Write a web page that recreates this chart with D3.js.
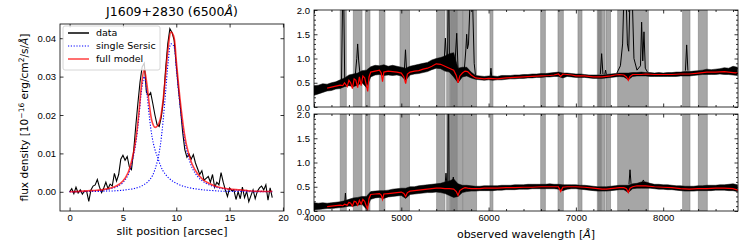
<!DOCTYPE html>
<html>
<head>
<meta charset="utf-8">
<script src="https://cdn.jsdelivr.net/npm/d3@7"></script>
<style>
  body { margin: 0; background: #fff; }
  svg { font-family: 'DejaVu Sans', sans-serif; }
  .tick text { font-size: 9.5px; fill: #000; }
  .tick line { stroke: #000; stroke-width: 0.8; }
  .domain { display: none; }
</style>
</head>
<body>
<svg id="chart" width="747" height="249"></svg>
<script>
// ---- left panel: slit profile ----
const slitPos = [0,0.2,0.4,0.6,0.8,1,1.2,1.4,1.6,1.8,2,2.2,2.4,2.6,2.8,3,3.2,3.4,3.6,3.8,
  4,4.2,4.4,4.6,4.8,5,5.2,5.4,5.6,5.8,6,6.2,6.4,6.6,6.8,7,7.2,7.4,7.6,7.8,
  8,8.2,8.4,8.6,8.8,9,9.2,9.4,9.6,9.8,10,10.2,10.4,10.6,10.8,11,11.2,11.4,11.6,11.8,
  12,12.2,12.4,12.6,12.8,13,13.2,13.4,13.6,13.8,14,14.2,14.4,14.6,14.8,15,15.2,15.4,15.6,15.8,
  16,16.2,16.4,16.6,16.8,17,17.2,17.4,17.6,17.8,18,18.2,18.4,18.6,18.8,19];
const slitFlux = [0.0000,0.0008,-0.0005,0.0012,-0.0003,0.0005,-0.0006,0.0002,0.0001,-0.0025,
  0.0005,0.0015,0.0018,0.0032,0.0012,-0.0002,0.0010,0.0025,0.0008,0.0020,
  0.0015,0.0048,0.0028,0.0045,0.0085,0.0095,0.0082,0.0092,0.0065,0.0058,
  0.0105,0.0170,0.0230,0.0285,0.0325,0.0335,0.0260,0.0250,0.0258,0.0230,
  0.0200,0.0175,0.0170,0.0195,0.0240,0.0320,0.0385,0.0425,0.0415,0.0395,
  0.0330,0.0270,0.0215,0.0155,0.0110,0.0090,0.0098,0.0085,0.0097,0.0075,
  0.0060,0.0045,0.0055,0.0030,0.0035,0.0040,0.0025,0.0045,0.0012,0.0025,
  0.0018,0.0050,0.0025,0.0005,-0.0012,0.0010,0.0003,0.0005,-0.0020,0.0000,
  -0.0018,0.0012,-0.0015,0.0001,-0.0026,-0.0010,0.0005,-0.0018,0.0001,0.0010,
  0.0015,0.0005,0.0018,-0.0022,0.0010,-0.0015];

const modelPos = [0,1,2,3,3.5,4,4.5,5,5.5,6,6.25,6.5,6.75,7,7.25,7.5,7.75,8,8.25,8.5,
  8.75,9,9.25,9.5,9.75,10,10.25,10.5,10.75,11,11.5,12,12.5,13,14,15,16,17,18,19];
const sersicA = [0.0000,0.0001,0.0002,0.0004,0.0006,0.0009,0.0014,0.0024,0.0045,0.0095,
  0.0135,0.0195,0.0265,0.0300,0.0255,0.0190,0.0140,0.0110,0.0090,0.0070,
  0.0055,0.0045,0.0037,0.0031,0.0026,0.0022,0.0019,0.0016,0.0014,0.0012,
  0.0009,0.0007,0.0005,0.0004,0.0002,0.0001,0.0001,0.0000,0.0000,0.0000];
const sersicB = [0.0000,0.0000,0.0001,0.0001,0.0002,0.0002,0.0003,0.0004,0.0006,0.0008,
  0.0010,0.0012,0.0015,0.0019,0.0024,0.0031,0.0041,0.0058,0.0082,0.0120,
  0.0180,0.0260,0.0340,0.0385,0.0380,0.0320,0.0250,0.0190,0.0140,0.0105,
  0.0062,0.0040,0.0027,0.0019,0.0010,0.0006,0.0004,0.0002,0.0001,0.0001];
const fullModel = [0.0000,0.0001,0.0003,0.0005,0.0008,0.0011,0.0017,0.0028,0.0051,0.0103,
  0.0145,0.0207,0.0280,0.0319,0.0279,0.0221,0.0181,0.0168,0.0172,0.0190,
  0.0235,0.0305,0.0377,0.0416,0.0406,0.0342,0.0269,0.0206,0.0154,0.0117,
  0.0071,0.0047,0.0032,0.0023,0.0012,0.0007,0.0005,0.0002,0.0001,0.0001];

const slitTicks = [0, 5, 10, 15, 20];
const fluxTicks = [0, 0.01, 0.02, 0.03, 0.04];

// ---- right panels: spectra ----
const specWave = [4000,4050,4100,4150,4200,4250,4300,4350,4400,4450,4500,4550,4600,4650,4700,4750,4800,4850,4900,4950,
  5000,5050,5100,5150,5200,5250,5300,5350,5400,5450,5500,5550,5600,5650,5700,5750,5800,5850,5900,5950,
  6000,6050,6100,6150,6200,6250,6300,6350,6400,6450,6500,6550,6600,6650,6700,6750,6800,6850,6900,6950,
  7000,7050,7100,7150,7200,7250,7300,7350,7400,7450,7500,7550,7600,7650,7700,7750,7800,7850,7900,7950,
  8000,8050,8100,8150,8200,8250,8300,8350,8400,8450,8500,8550,8600,8650,8700,8750,8800,8850];
const topLo = [0.24,0.27,0.30,0.33,0.34,0.37,0.38,0.42,0.44,0.42,0.45,0.50,0.40,0.62,0.66,0.67,0.65,0.66,0.65,0.66,
  0.64,0.55,0.66,0.68,0.69,0.71,0.73,0.77,0.80,0.79,0.74,0.72,0.62,0.50,0.62,0.64,0.60,0.57,0.56,0.55,
  0.56,0.55,0.56,0.56,0.57,0.58,0.58,0.59,0.59,0.60,0.60,0.61,0.61,0.62,0.62,0.63,0.63,0.60,0.63,0.62,
  0.61,0.61,0.61,0.60,0.59,0.59,0.59,0.60,0.61,0.62,0.63,0.62,0.56,0.63,0.64,0.64,0.64,0.63,0.63,0.63,
  0.63,0.63,0.63,0.63,0.64,0.64,0.64,0.65,0.66,0.67,0.67,0.67,0.67,0.68,0.67,0.67,0.66,0.65];
const topHi = [0.44,0.45,0.48,0.47,0.50,0.52,0.56,0.60,0.66,0.68,0.70,0.75,0.76,0.83,0.86,0.85,0.87,0.84,0.86,0.84,
  0.82,0.80,0.84,0.86,0.88,0.90,0.92,0.97,1.00,1.02,1.05,1.10,1.12,0.80,0.82,0.82,0.72,0.65,0.64,0.63,
  0.64,0.64,0.63,0.65,0.65,0.65,0.66,0.66,0.67,0.67,0.68,0.68,0.69,0.69,0.70,0.71,0.72,0.70,0.70,0.69,
  0.68,0.68,0.67,0.66,0.66,0.66,0.66,0.67,0.68,0.69,0.70,0.70,0.70,0.71,0.71,0.72,0.71,0.71,0.70,0.71,
  0.70,0.71,0.71,0.72,0.72,0.73,0.73,0.74,0.75,0.76,0.78,0.77,0.78,0.79,0.81,0.80,0.84,0.82];
const botLo = [0.02,0.03,0.04,0.05,0.05,0.06,0.07,0.08,0.10,0.10,0.12,0.14,0.04,0.24,0.27,0.28,0.26,0.29,0.30,0.31,
  0.32,0.26,0.34,0.35,0.36,0.37,0.38,0.38,0.39,0.38,0.36,0.32,0.28,0.30,0.38,0.40,0.41,0.41,0.42,0.42,
  0.42,0.42,0.43,0.43,0.44,0.44,0.44,0.45,0.45,0.45,0.46,0.46,0.46,0.46,0.46,0.46,0.45,0.42,0.45,0.46,
  0.46,0.45,0.44,0.43,0.42,0.41,0.41,0.41,0.42,0.43,0.44,0.44,0.38,0.46,0.47,0.47,0.47,0.47,0.46,0.45,
  0.45,0.44,0.44,0.43,0.42,0.41,0.41,0.41,0.42,0.42,0.42,0.42,0.43,0.43,0.43,0.42,0.42,0.40];
const botHi = [0.17,0.16,0.17,0.16,0.17,0.18,0.19,0.21,0.24,0.27,0.28,0.30,0.30,0.40,0.41,0.42,0.42,0.43,0.45,0.46,
  0.47,0.47,0.50,0.50,0.52,0.53,0.54,0.55,0.56,0.57,0.60,0.62,0.66,0.56,0.53,0.53,0.52,0.51,0.51,0.52,
  0.52,0.52,0.52,0.53,0.53,0.53,0.54,0.54,0.54,0.55,0.55,0.55,0.55,0.55,0.56,0.55,0.55,0.54,0.54,0.54,
  0.54,0.53,0.53,0.52,0.51,0.50,0.50,0.50,0.51,0.52,0.53,0.53,0.53,0.56,0.57,0.60,0.60,0.57,0.55,0.55,
  0.54,0.54,0.53,0.52,0.52,0.51,0.51,0.51,0.52,0.52,0.53,0.53,0.53,0.54,0.54,0.55,0.56,0.54];

// emission lines in the data, [wavelength, flux] points
const topSpikes = [
  [[4315,0.50],[4328,2.3],[4340,2.3],[4352,0.55]],
  [[4470,0.60],[4490,1.00],[4500,1.30],[4512,0.95],[4530,0.62]],
  [[5035,0.75],[5048,1.18],[5060,0.76]],
  [[5490,0.90],[5505,1.42],[5518,0.95]],
  [[5530,0.95],[5537,2.3],[5545,2.3],[5552,0.90]],
  [[5615,0.90],[5635,1.52],[5650,0.80]],
  [[5720,0.72],[5740,1.20],[5749,1.50],[5758,1.20],[5770,1.30],[5790,2.3],[5815,2.3],[5835,0.90],[5850,0.65]],
  [[6018,0.62],[6027,0.80],[6036,0.62]],
  [[7280,0.68],[7295,1.10],[7310,0.68]],
  [[7332,0.68],[7340,0.76],[7348,0.68]],
  [[7470,0.70],[7510,0.85],[7535,1.30],[7550,2.3],[7575,2.3],[7590,1.30],[7605,1.15],[7620,2.3],[7645,2.3],
   [7665,1.00],[7700,0.76],[7740,0.85],[7753,1.75],[7766,0.95],[7780,1.55],[7795,0.80],[7820,0.72]],
  [[8255,0.75],[8269,1.28],[8283,0.75]]
];
const botSpikes = [
  [[4352,0.18],[4360,0.37],[4368,0.18]],
  [[5502,0.55],[5512,0.78],[5522,0.55]],
  [[5532,0.60],[5537,2.3],[5543,2.3],[5548,0.60]],
  [[5588,0.62],[5596,0.70],[5604,0.60]],
  [[7608,0.55],[7620,0.85],[7632,0.56]],
  [[7760,0.58],[7773,0.64],[7786,0.58]]
];

const modelWave = [4150,4200,4250,4300,4330,4350,4380,4400,4420,4440,4460,4480,4500,4520,4540,4560,4580,4600,4615,4630,
  4650,4700,4750,4770,4785,4800,4850,4900,4950,5000,5030,5050,5070,5100,5150,5200,5250,5300,5350,5400,
  5450,5500,5550,5600,5630,5650,5670,5700,5730,5760,5800,5850,5900,5950,6000,6100,6200,6300,6400,6500,
  6600,6700,6750,6800,6826,6850,6900,6950,7000,7100,7200,7300,7350,7400,7450,7500,7550,7580,7600,7620,
  7650,7700,7750,7800,7900,8000,8100,8200,8300,8400,8500,8600,8700,8800,8857];
const topModel = [0.39,0.41,0.43,0.45,0.44,0.50,0.42,0.55,0.50,0.38,0.58,0.55,0.40,0.62,0.44,0.64,0.60,0.45,0.32,0.62,
  0.72,0.74,0.76,0.70,0.52,0.72,0.74,0.73,0.72,0.70,0.62,0.48,0.68,0.72,0.74,0.75,0.78,0.80,0.84,0.89,
  0.88,0.84,0.80,0.76,0.65,0.50,0.64,0.70,0.74,0.73,0.66,0.60,0.59,0.58,0.59,0.58,0.60,0.61,0.62,0.63,
  0.64,0.65,0.66,0.68,0.63,0.68,0.67,0.66,0.64,0.64,0.62,0.62,0.63,0.64,0.66,0.67,0.66,0.62,0.55,0.63,
  0.67,0.67,0.67,0.68,0.67,0.67,0.67,0.68,0.68,0.70,0.72,0.72,0.73,0.71,0.70];
const botModel = [0.09,0.10,0.11,0.12,0.11,0.14,0.12,0.18,0.16,0.10,0.20,0.19,0.12,0.22,0.14,0.24,0.20,0.10,0.04,0.26,
  0.34,0.35,0.36,0.33,0.24,0.35,0.36,0.37,0.38,0.39,0.36,0.30,0.38,0.41,0.42,0.43,0.44,0.45,0.46,0.47,
  0.47,0.46,0.46,0.45,0.40,0.32,0.42,0.46,0.48,0.47,0.46,0.46,0.46,0.47,0.47,0.47,0.48,0.48,0.49,0.49,
  0.50,0.50,0.50,0.50,0.40,0.49,0.50,0.50,0.50,0.49,0.47,0.45,0.45,0.46,0.47,0.48,0.48,0.46,0.38,0.47,
  0.50,0.52,0.52,0.52,0.50,0.49,0.48,0.46,0.45,0.46,0.46,0.47,0.47,0.46,0.43];

// masked wavelength ranges (grey bands)
const maskBands = [[4300,4370],[4450,4550],[4588,4641],[4748,4813],[4985,5095],[5405,5500],[5520,5560],
  [5560,5700],[5575,5640],[5705,5863],[6016,6050],[6597,6650],[6795,6856],[7024,7070],[7245,7333],
  [7257,7290],[7345,7398],[7479,7830],[8223,8307],[8402,8505]];

const waveTicks = [4000, 5000, 6000, 7000, 8000];
const specTicks = [0, 0.5, 1.0, 1.5, 2.0];

// ================= drawing =================
const svg = d3.select('#chart');
const defs = svg.append('defs');

function clip(id, b) {
  defs.append('clipPath').attr('id', id)
    .append('rect').attr('x', b.x0).attr('y', b.y0)
    .attr('width', b.x1 - b.x0).attr('height', b.y1 - b.y0);
}

function addAxes(x, y, b, o) {
  const g = svg.append('g');
  const major = 3.5, minor = 2;
  const sides = [
    ['bottom', d3.axisBottom, `translate(0,${b.y1})`, x, o.xMajor, o.xMinor, o.xFmt],
    ['top', d3.axisTop, `translate(0,${b.y0})`, x, o.xMajor, o.xMinor, null],
    ['left', d3.axisLeft, `translate(${b.x0},0)`, y, o.yMajor, o.yMinor, o.yFmt],
    ['right', d3.axisRight, `translate(${b.x1},0)`, y, o.yMajor, o.yMinor, null],
  ];
  sides.forEach(([side, axisFn, tr, sc, maj, mnr, fmt]) => {
    if (mnr) {
      g.append('g').attr('transform', tr)
        .call(axisFn(sc).tickValues(mnr).tickSize(-minor).tickFormat(''));
    }
    g.append('g').attr('transform', tr)
      .call(axisFn(sc).tickValues(maj).tickSize(-major).tickPadding(side === 'left' ? 4 : 3.5)
        .tickFormat(fmt ? fmt : ''));
  });
  g.append('rect').attr('x', b.x0).attr('y', b.y0)
    .attr('width', b.x1 - b.x0).attr('height', b.y1 - b.y0)
    .attr('fill', 'none').attr('stroke', '#000').attr('stroke-width', 0.8);
}

// ---- left panel ----
const L = {x0: 60, x1: 284, y0: 24, y1: 211};
clip('clipL', L);
const xSlit = d3.scaleLinear().domain([-0.9, 20.1]).range([L.x0, L.x1]);
const yFlux = d3.scaleLinear().domain([-0.005, 0.0437]).range([L.y1, L.y0]);

const gL = svg.append('g').attr('clip-path', 'url(#clipL)');

gL.append('path')
  .attr('d', d3.line().x((d, i) => xSlit(slitPos[i])).y(d => yFlux(d))(slitFlux))
  .attr('fill', 'none').attr('stroke', '#000').attr('stroke-width', 1.1);

const modelLine = d3.line().curve(d3.curveCatmullRom)
  .x((d, i) => xSlit(modelPos[i])).y(d => yFlux(d));

[sersicA, sersicB].forEach(s => {
  gL.append('path').attr('d', modelLine(s))
    .attr('fill', 'none').attr('stroke', '#0000ff').attr('stroke-width', 1.1)
    .attr('stroke-dasharray', '1.2,1.6');
});
gL.append('path').attr('d', modelLine(fullModel))
  .attr('fill', 'none').attr('stroke', 'red').attr('stroke-opacity', 0.75)
  .attr('stroke-width', 1.6);

addAxes(xSlit, yFlux, L, {
  xMajor: slitTicks, xFmt: d3.format('d'),
  yMajor: fluxTicks, yFmt: d3.format('.2f'),
});

// legend
const legendItems = [
  {label: 'data', color: '#000', dash: null, op: 1},
  {label: 'single Sersic', color: '#0000ff', dash: '1.2,1.6', op: 1},
  {label: 'full model', color: 'red', dash: null, op: 0.75},
];
const lg = svg.append('g');
lg.append('rect').attr('x', 63).attr('y', 26).attr('width', 97).attr('height', 44)
  .attr('rx', 2).attr('fill', '#fff').attr('fill-opacity', 0.8)
  .attr('stroke', '#ccc').attr('stroke-width', 0.8);
legendItems.forEach((d, i) => {
  const yy = 33 + i * 13;
  lg.append('line').attr('x1', 68).attr('x2', 89).attr('y1', yy).attr('y2', yy)
    .attr('stroke', d.color).attr('stroke-opacity', d.op)
    .attr('stroke-width', d.dash ? 1.1 : 1.5)
    .attr('stroke-dasharray', d.dash);
  lg.append('text').attr('x', 96).attr('y', yy + 3.4)
    .attr('font-size', 9.5).text(d.label);
});

// title and labels
const title = svg.append('text').attr('x', 172).attr('y', 16)
  .attr('text-anchor', 'middle').attr('font-size', 12.5);
title.append('tspan').text('J1609+2830 (6500');
title.append('tspan').attr('font-style', 'italic').text('Å');
title.append('tspan').text(')');

svg.append('text').attr('x', 172).attr('y', 235).attr('text-anchor', 'middle')
  .attr('font-size', 11).text('slit position [arcsec]');

const yl = svg.append('text').attr('transform', 'translate(28,117.5) rotate(-90)')
  .attr('text-anchor', 'middle').attr('font-size', 10.6);
yl.append('tspan').text('flux density [10');
yl.append('tspan').attr('dy', -4).attr('font-size', 7.5).text('\u221216');
yl.append('tspan').attr('dy', 4).text(' erg/cm');
yl.append('tspan').attr('dy', -4).attr('font-size', 7.5).text('2');
yl.append('tspan').attr('dy', 4).text('/s/');
yl.append('tspan').attr('font-style', 'italic').text('Å');
yl.append('tspan').text(']');

// ---- right panels ----
const xWave = d3.scaleLinear().domain([4000, 8857]).range([314, 738]);
const waveMinor = d3.range(4000, 8857, 200).filter(v => v % 1000 !== 0);
const specMinor = d3.range(1, 20).filter(v => v % 5 !== 0).map(v => v / 10);

const panels = [
  {id: 'clipT', b: {x0: 314, x1: 738, y0: 10, y1: 107}, lo: topLo, hi: topHi,
   spikes: topSpikes, model: topModel, labels: false},
  {id: 'clipB', b: {x0: 314, x1: 738, y0: 114, y1: 211}, lo: botLo, hi: botHi,
   spikes: botSpikes, model: botModel, labels: true},
];

panels.forEach(p => {
  clip(p.id, p.b);
  const y = d3.scaleLinear().domain([0, 2]).range([p.b.y1, p.b.y0]);
  const g = svg.append('g').attr('clip-path', `url(#${p.id})`);

  g.selectAll('rect.band').data(maskBands).enter().append('rect')
    .attr('class', 'band')
    .attr('x', d => xWave(d[0])).attr('width', d => xWave(d[1]) - xWave(d[0]))
    .attr('y', p.b.y0).attr('height', p.b.y1 - p.b.y0)
    .attr('fill', 'grey').attr('fill-opacity', 0.7)
    .attr('stroke', 'grey').attr('stroke-opacity', 0.7).attr('stroke-width', 0.8);

  const band = d3.area()
    .x((d, i) => xWave(specWave[i]))
    .y0((d, i) => y(p.lo[i]))
    .y1((d, i) => y(p.hi[i]));
  g.append('path').attr('d', band(specWave))
    .attr('fill', '#000').attr('stroke', '#000').attr('stroke-width', 0.5);

  const spikeLine = d3.line().x(d => xWave(d[0])).y(d => y(d[1]));
  g.selectAll('path.spike').data(p.spikes).enter().append('path')
    .attr('class', 'spike').attr('d', spikeLine)
    .attr('fill', 'none').attr('stroke', '#000').attr('stroke-width', 1);

  g.append('path')
    .attr('d', d3.line().x((d, i) => xWave(modelWave[i])).y(d => y(d))(p.model))
    .attr('fill', 'none').attr('stroke', 'red').attr('stroke-width', 1.2);

  addAxes(xWave, y, p.b, {
    xMajor: waveTicks, xMinor: waveMinor, xFmt: p.labels ? d3.format('d') : null,
    yMajor: specTicks, yMinor: specMinor, yFmt: d3.format('.1f'),
  });
});

const xl = svg.append('text').attr('x', 526).attr('y', 237.5)
  .attr('text-anchor', 'middle').attr('font-size', 11);
xl.append('tspan').text('observed wavelength [');
xl.append('tspan').attr('font-style', 'italic').text('Å');
xl.append('tspan').text(']');
</script>
</body>
</html>
